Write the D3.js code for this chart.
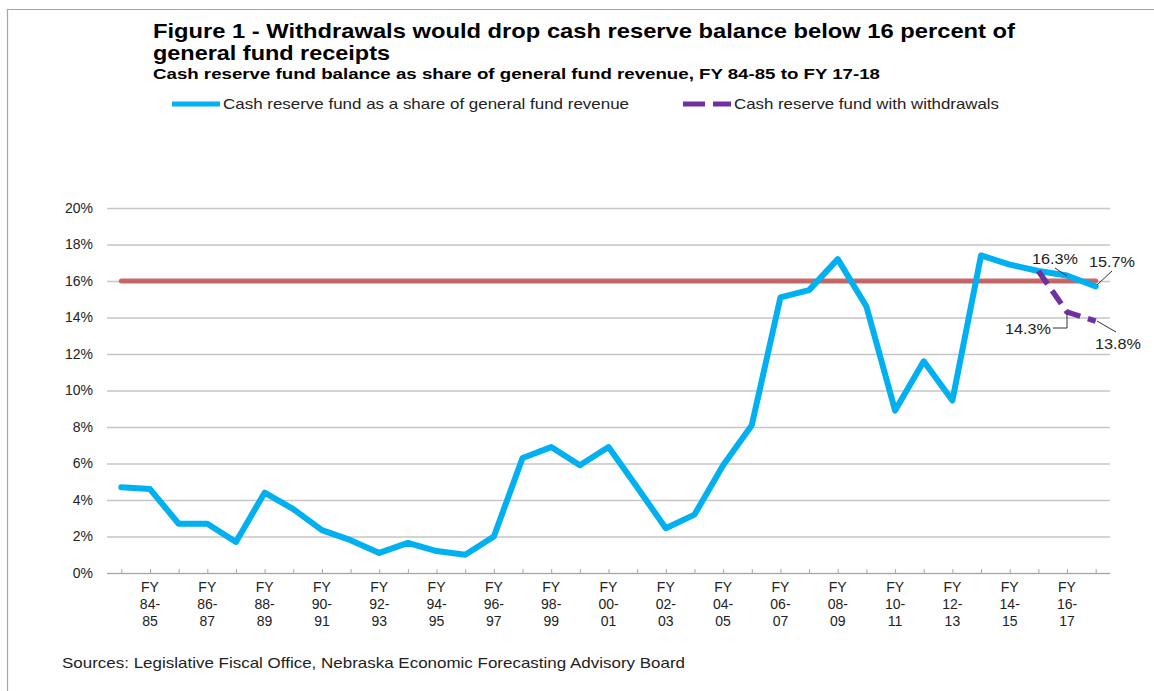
<!DOCTYPE html>
<html>
<head>
<meta charset="utf-8">
<script src="https://cdn.jsdelivr.net/npm/d3@7"></script>
<style>
  html, body { margin: 0; padding: 0; background: #fff; }
  svg { display: block; font-family: "Liberation Sans", Arial, sans-serif; }
</style>
</head>
<body>
<svg id="chart" width="1154" height="691"></svg>
<script>
// ── Data ──────────────────────────────────────
const fiscalYears = [
  "FY 83-84", "FY 84-85", "FY 85-86", "FY 86-87", "FY 87-88", "FY 88-89", "FY 89-90",
  "FY 90-91", "FY 91-92", "FY 92-93", "FY 93-94", "FY 94-95", "FY 95-96", "FY 96-97",
  "FY 97-98", "FY 98-99", "FY 99-00", "FY 00-01", "FY 01-02", "FY 02-03", "FY 03-04",
  "FY 04-05", "FY 05-06", "FY 06-07", "FY 07-08", "FY 08-09", "FY 09-10", "FY 10-11",
  "FY 11-12", "FY 12-13", "FY 13-14", "FY 14-15", "FY 15-16", "FY 16-17", "FY 17-18"
];
// cash reserve fund as % of general fund revenue
const reserveShare = [
  4.7, 4.6, 2.7, 2.7, 1.7, 4.4, 3.5, 2.35, 1.8, 1.1, 1.65, 1.2, 1.0, 2.0,
  6.3, 6.9, 5.9, 6.9, 4.7, 2.45, 3.2, 5.9, 8.1, 15.1, 15.5, 17.2, 14.6, 8.9,
  11.6, 9.45, 17.4, 16.9, 16.55, 16.3, 15.7
];
const withdrawYears = ["FY 15-16", "FY 16-17", "FY 17-18"];
const withdrawShare = [16.55, 14.3, 13.8];
const targetShare = 16;
const yTicks = [0, 2, 4, 6, 8, 10, 12, 14, 16, 18, 20];

const titleLines = [
  "Figure 1 - Withdrawals would drop cash reserve balance below 16 percent of",
  "general fund receipts"
];
const subtitle = "Cash reserve fund balance as share of general fund revenue, FY 84-85 to FY 17-18";
const legendItems = [
  { name: "Cash reserve fund as a share of general fund revenue", color: "#00b0f0", dash: null },
  { name: "Cash reserve fund with withdrawals", color: "#7030a0", dash: "22,8" }
];
const source = "Sources: Legislative Fiscal Office, Nebraska Economic Forecasting Advisory Board";

// ── Layout ────────────────────────────────────
const svg = d3.select("#chart");
const plot = { left: 107, right: 1110, top: 208, bottom: 573 };

// the reference text is drawn a bit wide; stretch to the measured widths
function fitWidth(sel, w) {
  sel.attr("textLength", w).attr("lengthAdjust", "spacingAndGlyphs");
}

const x = d3.scalePoint()
  .domain(fiscalYears)
  .range([plot.left, plot.right])
  .padding(0.5);

const y = d3.scaleLinear()
  .domain([0, 20])
  .range([plot.bottom, plot.top]);

// frame
svg.append("path")
  .attr("d", "M7.5,691 V9.5 H1154")
  .attr("fill", "none")
  .attr("stroke", "#a6a6a6")
  .attr("stroke-width", 1.2);

// titles
const titleWidths = [862, 237];
svg.append("g").selectAll("text")
  .data(titleLines)
  .join("text")
  .attr("x", 153)
  .attr("y", (d, i) => 38 + i * 22)
  .attr("font-size", 21)
  .attr("font-weight", "bold")
  .attr("fill", "#000")
  .attr("textLength", (d, i) => titleWidths[i])
  .attr("lengthAdjust", "spacingAndGlyphs")
  .text(d => d);

svg.append("text")
  .attr("x", 153).attr("y", 79)
  .attr("font-size", 15)
  .attr("font-weight", "bold")
  .attr("fill", "#000")
  .call(fitWidth, 727)
  .text(subtitle);

// legend
const legendX = [172, 683];
const legendW = [406, 265];
const lg = svg.append("g").selectAll("g")
  .data(legendItems)
  .join("g")
  .attr("transform", (d, i) => `translate(${legendX[i]},104)`);
lg.append("line")
  .attr("x1", 0).attr("x2", 48)
  .attr("stroke", d => d.color)
  .attr("stroke-width", 5)
  .attr("stroke-dasharray", d => d.dash);
lg.append("text")
  .attr("x", 51).attr("y", 5)
  .attr("font-size", 14.5)
  .attr("fill", "#222")
  .attr("textLength", (d, i) => legendW[i])
  .attr("lengthAdjust", "spacingAndGlyphs")
  .text(d => d.name);

// gridlines + y labels
const yAxis = d3.axisLeft(y)
  .tickValues(yTicks)
  .tickSize(-(plot.right - plot.left))
  .tickPadding(14)
  .tickFormat(d => d + "%");

svg.append("g")
  .attr("transform", `translate(${plot.left},0)`)
  .call(yAxis)
  .call(g => g.select(".domain").remove())
  .call(g => g.selectAll(".tick line")
    .attr("stroke", "#c6c6c6")
    .attr("stroke-width", 1.3))
  .call(g => g.selectAll(".tick text")
    .attr("font-family", "Liberation Sans, Arial, sans-serif")
    .attr("font-size", 14)
    .attr("fill", "#222"));

// x axis
const xAxis = d3.axisBottom(x)
  .tickSize(4)
  .tickFormat(() => "");

svg.append("g")
  .attr("transform", `translate(0,${plot.bottom})`)
  .call(xAxis)
  .call(g => g.select(".domain")
    .attr("d", `M${plot.left},0.5H${plot.right}`)
    .attr("stroke", "#a6a6a6"))
  .call(g => g.selectAll(".tick line")
    .attr("stroke", "#a6a6a6")
    .attr("y1", -4).attr("y2", 0));

const xLabels = svg.append("g").selectAll("text")
  .data(fiscalYears.filter((d, i) => i % 2 === 1))
  .join("text")
  .attr("text-anchor", "middle")
  .attr("font-size", 14)
  .attr("fill", "#222");
xLabels.each(function (d) {
  const parts = d.replace("FY ", "").split("-");
  const rows = ["FY", parts[0] + "-", parts[1]];
  d3.select(this).selectAll("tspan")
    .data(rows)
    .join("tspan")
    .attr("x", x(d))
    .attr("y", (r, i) => 592 + i * 17)
    .text(r => r);
});

// 16% target line
svg.append("line")
  .attr("x1", x(fiscalYears[0]))
  .attr("x2", x(fiscalYears[fiscalYears.length - 1]))
  .attr("y1", y(targetShare))
  .attr("y2", y(targetShare))
  .attr("stroke", "#c0504d")
  .attr("stroke-opacity", 0.85)
  .attr("stroke-width", 5)
  .attr("stroke-linecap", "round");

// main series
const line = d3.line()
  .x(d => x(d[0]))
  .y(d => y(d[1]));

svg.append("path")
  .datum(d3.zip(fiscalYears, reserveShare))
  .attr("d", line)
  .attr("fill", "none")
  .attr("stroke", "#00b0f0")
  .attr("stroke-width", 6)
  .attr("stroke-linejoin", "round")
  .attr("stroke-linecap", "round");

svg.append("path")
  .datum(d3.zip(withdrawYears, withdrawShare))
  .attr("d", line)
  .attr("fill", "none")
  .attr("stroke", "#7030a0")
  .attr("stroke-width", 5.5)
  .attr("stroke-dasharray", "16,8");

// data labels with leader lines
const annotations = [
  { text: "16.3%", tx: 1055, ty: 264, leader: [[1055, 268], [1067, 276]] },
  { text: "15.7%", tx: 1112, ty: 267, leader: [[1112, 271], [1097, 285]] },
  { text: "14.3%", tx: 1028, ty: 334, leader: [[1053, 328], [1067, 328], [1067, 313]] },
  { text: "13.8%", tx: 1118, ty: 349, leader: [[1097, 321], [1116, 332]] }
];
const ann = svg.append("g").selectAll("g").data(annotations).join("g");
ann.append("path")
  .attr("d", d => d3.line()(d.leader))
  .attr("fill", "none")
  .attr("stroke", "#333")
  .attr("stroke-width", 1);
ann.append("text")
  .attr("x", d => d.tx - 23).attr("y", d => d.ty)
  .attr("font-size", 15.5)
  .attr("fill", "#222")
  .call(fitWidth, 46)
  .text(d => d.text);

// source
svg.append("text")
  .attr("x", 62).attr("y", 668)
  .attr("font-size", 14.5)
  .attr("fill", "#222")
  .call(fitWidth, 623)
  .text(source);
</script>
</body>
</html>
